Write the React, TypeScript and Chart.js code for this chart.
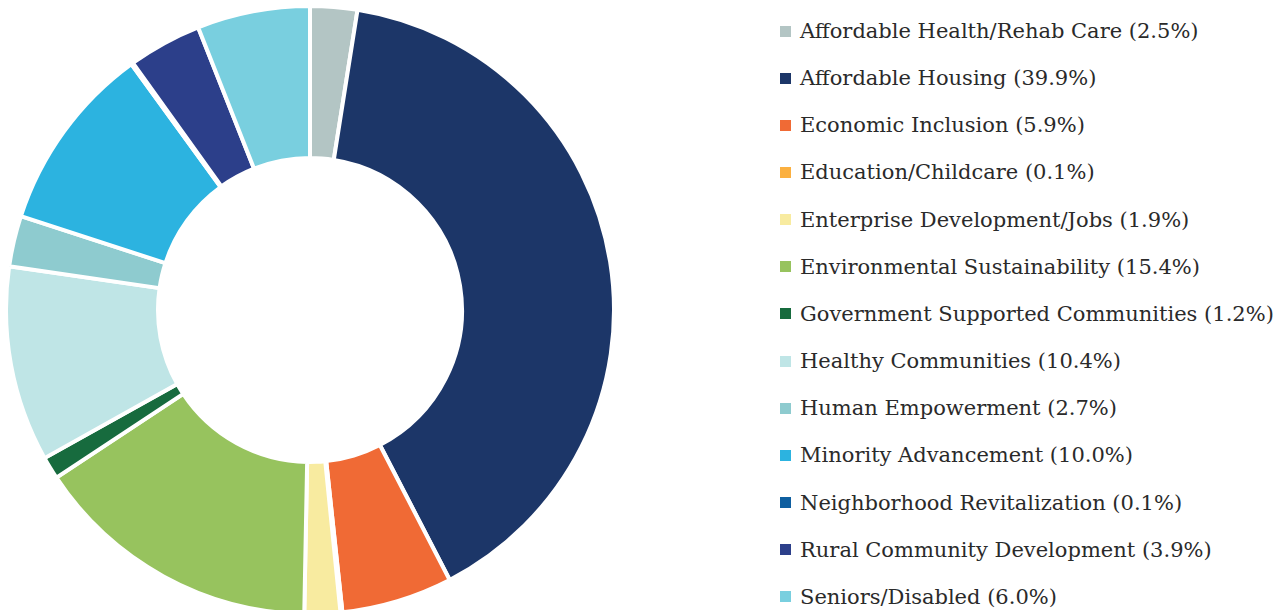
import React, { useEffect, useRef } from "react";
import { Chart, registerables } from "chart.js";

Chart.register(...registerables);

const categories = [
  "Affordable Health/Rehab Care",
  "Affordable Housing",
  "Economic Inclusion",
  "Education/Childcare",
  "Enterprise Development/Jobs",
  "Environmental Sustainability",
  "Government Supported Communities",
  "Healthy Communities",
  "Human Empowerment",
  "Minority Advancement",
  "Neighborhood Revitalization",
  "Rural Community Development",
  "Seniors/Disabled",
];

const shares = [2.5, 39.9, 5.9, 0.1, 1.9, 15.4, 1.2, 10.4, 2.7, 10.0, 0.1, 3.9, 6.0];

const colors = [
  "#b3c5c4",
  "#1c3668",
  "#f06a35",
  "#fbb040",
  "#f8eba0",
  "#97c35e",
  "#176b3e",
  "#bfe5e6",
  "#8ecbcf",
  "#2cb3e0",
  "#0f5fa0",
  "#2c3f8a",
  "#79cfdf",
];

const FONT = "'DejaVu Serif', serif";

export default function App() {
  const ref = useRef<HTMLCanvasElement | null>(null);

  useEffect(() => {
    if (!ref.current) return;
    const chart = new Chart(ref.current, {
      type: "doughnut",
      data: {
        labels: categories,
        datasets: [
          {
            data: shares,
            backgroundColor: colors,
            borderColor: "#ffffff",
            borderWidth: 4,
          },
        ],
      },
      options: {
        responsive: false,
        animation: false,
        cutout: "50%",
        plugins: {
          legend: { display: false },
          tooltip: { enabled: false },
        },
      },
    });
    return () => chart.destroy();
  }, []);

  return (
    <div style={{ position: "relative", width: 1276, height: 602, fontFamily: FONT }}>
      <canvas ref={ref} width={612} height={612} style={{ position: "absolute", left: -4, top: -4 }} />
      <div style={{ position: "absolute", left: 772, top: 0 }}>
        {categories.map((c, i) => (
          <div
            key={c}
            style={{
              position: "absolute",
              left: 0,
              top: 23 + i * 47.15 - 15,
              height: 30,
              display: "flex",
              alignItems: "center",
              whiteSpace: "nowrap",
            }}
          >
            <span
              style={{
                display: "inline-block",
                width: 11,
                height: 11,
                background: colors[i],
                marginRight: 9,
              }}
            />
            <span style={{ fontSize: 21, color: "#2a2a2a" }}>
              {c} ({shares[i].toFixed(1)}%)
            </span>
          </div>
        ))}
      </div>
    </div>
  );
}
